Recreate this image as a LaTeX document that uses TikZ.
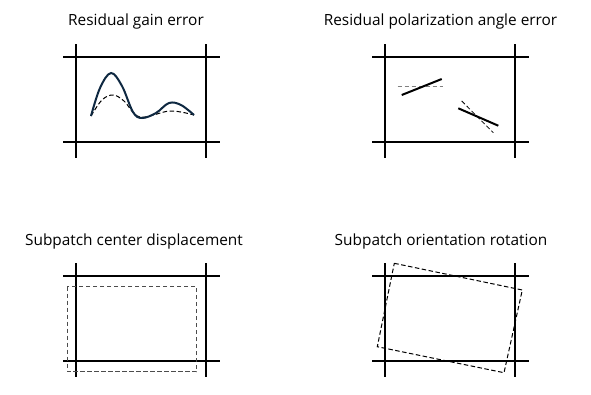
\documentclass[tikz,border=0pt]{standalone}
\usepackage{fontspec}
\setmainfont{Open Sans}
\begin{document}
\begin{tikzpicture}[x=1pt,y=-1pt,
  gridline/.style={line width=2pt,black},
  dashline/.style={dashed,line width=1pt,dash pattern=on 4.5pt off 2.5pt},
  title/.style={anchor=base,font=\fontsize{15.4}{18}\selectfont,inner sep=0pt}]
\useasboundingbox[fill=white] (0,0) rectangle (591,394);
\newcommand\gridpanel[2]{%
  \draw[gridline] (#1,#2-13) -- (#1,#2+101);
  \draw[gridline] (#1+130,#2-13) -- (#1+130,#2+101);
  \draw[gridline] (#1-13,#2) -- (#1+144,#2);
  \draw[gridline] (#1-13,#2+85) -- (#1+144,#2+85);}
% titles
\node[title] (t1) at (136,25.5) {Residual gain error};
\node[title] (t2) at (440.5,25.5) {Residual polarization angle error};
\node[title] (t3) at (134,245.5) {Subpatch center displacement};
\node[title] (t4) at (441,245.5) {Subpatch orientation rotation};
% panels
\gridpanel{76}{57}
\gridpanel{385}{57}
\gridpanel{76}{276}
\gridpanel{385}{276}
% panel 1: gain curves
\definecolor{curvecol}{HTML}{0E2841}
\draw[dashline,black] plot[smooth,tension=0.6] coordinates {(91,116) (102,100) (113,95) (124,101) (140,117) (170,111) (194,115)};
\draw[line width=2pt,curvecol] plot[smooth,tension=0.6] coordinates {(91,116) (100,88) (111,73) (122,86) (133,112) (142,118) (156,113) (169,103) (181,105) (194,115)};
% panel 2: polarization
\draw[dashline,gray,line width=1.2pt] (397.7,86.7) -- (443.3,86.7);
\draw[line width=2pt] (401.7,95) -- (441.7,79);
\draw[dashline,black,line width=0.8pt] (461.7,101) -- (493.3,132.7);
\draw[line width=2pt] (458.3,108.3) -- (498.3,125.7);
% panel 3: displaced patch
\draw[dashline,black!70] (67.3,286.7) rectangle (196.7,371.7);
% panel 4: rotated patch
\draw[dashline,black] (394.3,263.3) -- (522.3,290) -- (504,372.7) -- (377.3,346.7) -- cycle;
\end{tikzpicture}
\end{document}
